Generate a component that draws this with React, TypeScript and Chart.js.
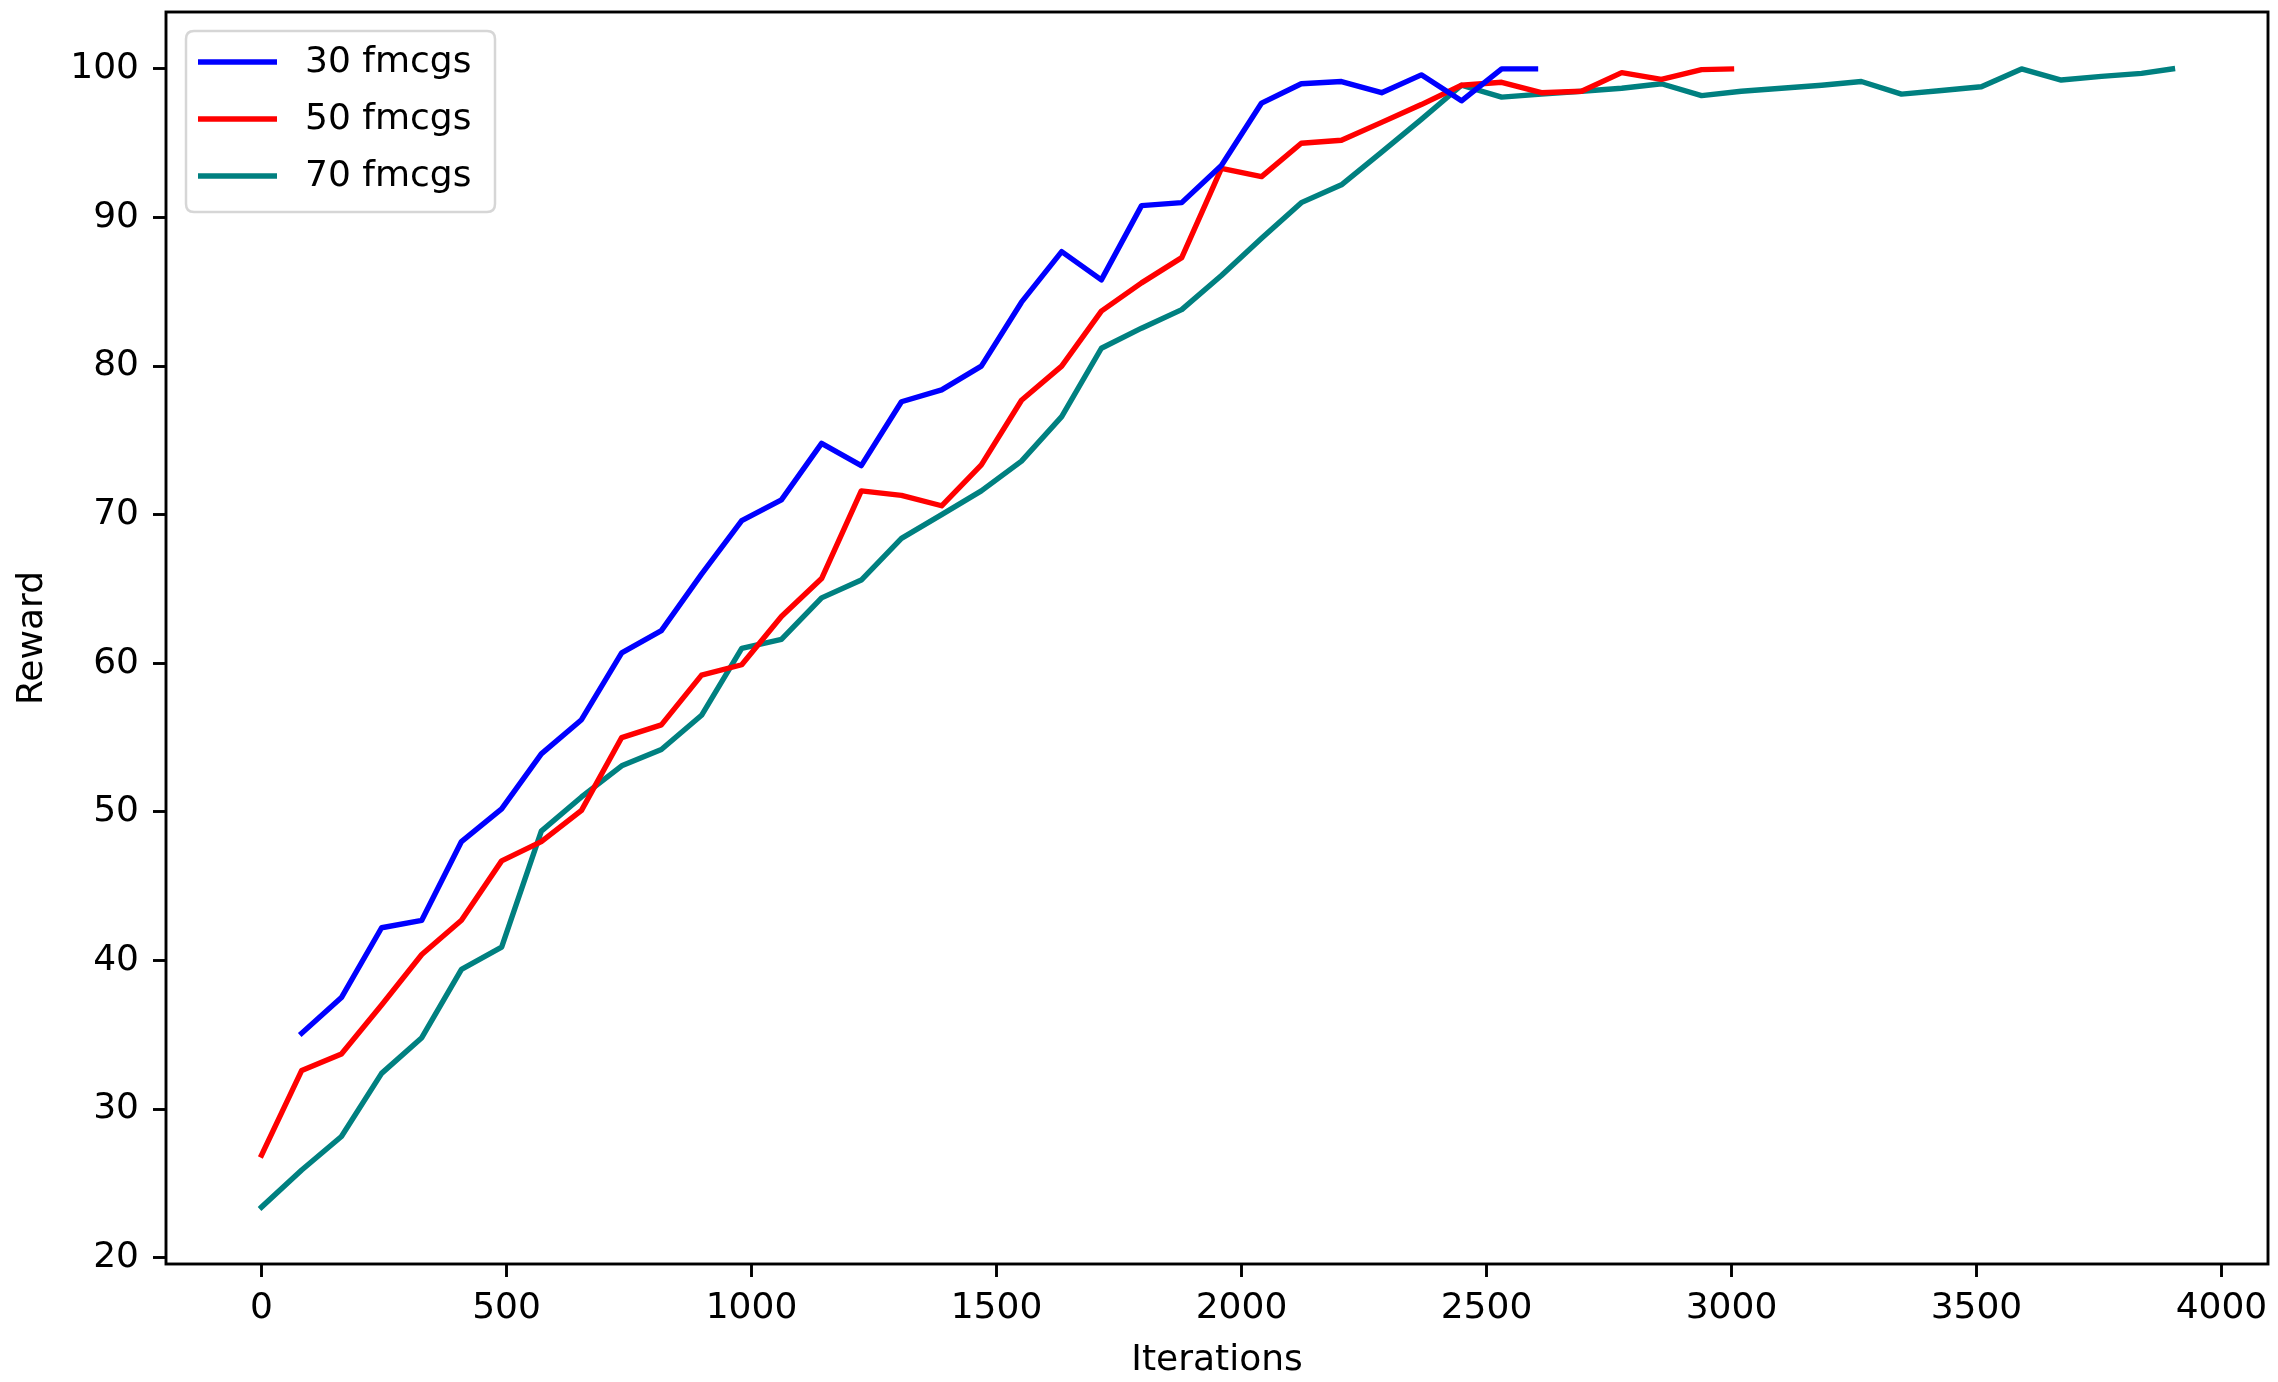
import React, { useEffect, useRef } from "react";
import { Chart, registerables } from "chart.js";

Chart.register(...registerables);

// ---- data ----
const seriesLabels = ["30 fmcgs", "50 fmcgs", "70 fmcgs"];
const seriesColors = ["#0000ff", "#ff0000", "#008080"];

const iter30 = [82, 163, 245, 327, 408, 490, 571, 653, 735, 816, 898, 980, 1061, 1143, 1224, 1306, 1388, 1469, 1551, 1633, 1714, 1796, 1878, 1959, 2041, 2122, 2204, 2286, 2367, 2449, 2531, 2600];
const reward30 = [35.1, 37.5, 42.2, 42.7, 48.0, 50.2, 53.9, 56.2, 60.7, 62.2, 66.0, 69.6, 71.0, 74.8, 73.3, 77.6, 78.4, 80.0, 84.3, 87.7, 85.8, 90.8, 91.0, 93.5, 97.7, 99.0, 99.15, 98.4, 99.6, 97.85, 100.0, 100.0];

const iter50 = [0, 82, 163, 245, 327, 408, 490, 571, 653, 735, 816, 898, 980, 1061, 1143, 1224, 1306, 1388, 1469, 1551, 1633, 1714, 1796, 1878, 1959, 2041, 2122, 2204, 2286, 2367, 2449, 2531, 2612, 2694, 2776, 2857, 2939, 3000];
const reward50 = [26.9, 32.6, 33.7, 37.0, 40.4, 42.7, 46.7, 48.0, 50.1, 55.0, 55.85, 59.2, 59.9, 63.15, 65.7, 71.6, 71.3, 70.6, 73.35, 77.7, 80.0, 83.7, 85.6, 87.3, 93.3, 92.75, 95.0, 95.2, 96.4, 97.6, 98.9, 99.1, 98.4, 98.5, 99.75, 99.3, 99.95, 100.0];

const iter70 = [0, 82, 163, 245, 327, 408, 490, 571, 653, 735, 816, 898, 980, 1061, 1143, 1224, 1306, 1388, 1469, 1551, 1633, 1714, 1796, 1878, 1959, 2041, 2122, 2204, 2286, 2367, 2449, 2531, 2612, 2694, 2776, 2857, 2939, 3020, 3102, 3184, 3265, 3347, 3429, 3510, 3592, 3673, 3755, 3837, 3900];
const reward70 = [23.4, 25.9, 28.15, 32.4, 34.8, 39.4, 40.9, 48.7, 51.0, 53.1, 54.2, 56.5, 61.0, 61.6, 64.4, 65.6, 68.4, 70.0, 71.6, 73.6, 76.6, 81.2, 82.55, 83.8, 86.1, 88.6, 91.0, 92.2, 94.4, 96.6, 98.9, 98.1, 98.3, 98.5, 98.7, 99.0, 98.2, 98.5, 98.7, 98.9, 99.15, 98.3, 98.55, 98.8, 100.0, 99.25, 99.5, 99.7, 100.0];

const xTicks = [0, 500, 1000, 1500, 2000, 2500, 3000, 3500, 4000];
const yTicks = [20, 30, 40, 50, 60, 70, 80, 90, 100];
const xRange = [-195, 4095];
const yRange = [19.57, 103.83];
const xTitle = "Iterations";
const yTitle = "Reward";

const FONT = "'DejaVu Sans', sans-serif";
const FS = 36;

const framePlugin = {
  id: "mplFrame",
  afterDatasetsDraw(chart: any) {
    const { ctx, chartArea: a } = chart;
    ctx.save();
    ctx.strokeStyle = "#000";
    ctx.lineWidth = 2.9;
    ctx.strokeRect(a.left, a.top, a.right - a.left, a.bottom - a.top);
    ctx.restore();
  },
};

const legendPlugin = {
  id: "mplLegend",
  afterDraw(chart: any) {
    const { ctx, chartArea: a } = chart;
    const bx = a.left + 20;
    const by = a.top + 19;
    const bw = 309;
    const bh = 181;
    const r = 8;
    ctx.save();
    ctx.beginPath();
    ctx.moveTo(bx + r, by);
    ctx.lineTo(bx + bw - r, by);
    ctx.quadraticCurveTo(bx + bw, by, bx + bw, by + r);
    ctx.lineTo(bx + bw, by + bh - r);
    ctx.quadraticCurveTo(bx + bw, by + bh, bx + bw - r, by + bh);
    ctx.lineTo(bx + r, by + bh);
    ctx.quadraticCurveTo(bx, by + bh, bx, by + bh - r);
    ctx.lineTo(bx, by + r);
    ctx.quadraticCurveTo(bx, by, bx + r, by);
    ctx.closePath();
    ctx.fillStyle = "rgba(255,255,255,0.8)";
    ctx.fill();
    ctx.strokeStyle = "rgba(204,204,204,0.8)";
    ctx.lineWidth = 2.5;
    ctx.stroke();
    chart.data.datasets.forEach((ds: any, i: number) => {
      const y = by + 31 + i * 57;
      ctx.beginPath();
      ctx.strokeStyle = ds.borderColor;
      ctx.lineWidth = 5.4;
      ctx.lineCap = "butt";
      ctx.moveTo(bx + 12, y);
      ctx.lineTo(bx + 91, y);
      ctx.stroke();
      ctx.fillStyle = "#000";
      ctx.font = `${FS}px ${FONT}`;
      ctx.textBaseline = "middle";
      ctx.textAlign = "left";
      ctx.fillText(ds.label, bx + 119, y + 1);
    });
    ctx.restore();
  },
};

export default function App() {
  const ref = useRef<HTMLCanvasElement | null>(null);

  useEffect(() => {
    if (!ref.current) return;
    const mk = (xs: number[], ys: number[]) => xs.map((x, i) => ({ x, y: ys[i] }));
    const datas = [mk(iter30, reward30), mk(iter50, reward50), mk(iter70, reward70)];
    const chart = new Chart(ref.current, {
      type: "line",
      data: {
        datasets: datas.map((d, i) => ({
          label: seriesLabels[i],
          data: d,
          borderColor: seriesColors[i],
          backgroundColor: seriesColors[i],
          borderWidth: 5.4,
          pointRadius: 0,
          pointHoverRadius: 0,
          tension: 0,
          fill: false,
          borderJoinStyle: "round",
          borderCapStyle: "square",
        })),
      },
      options: {
        responsive: false,
        animation: false,
        events: [],
        layout: { autoPadding: false, padding: { left: 0, right: 10, top: 12, bottom: 0 } },
        plugins: { legend: { display: false }, tooltip: { enabled: false } },
        scales: {
          x: {
            type: "linear",
            min: xRange[0],
            max: xRange[1],
            afterBuildTicks: (s: any) => {
              s.ticks = xTicks.map((v) => ({ value: v }));
            },
            afterFit: (s: any) => {
              s.height = 118;
              s.paddingLeft = 0;
              s.paddingRight = 0;
            },
            border: { display: false },
            grid: {
              drawOnChartArea: false,
              drawTicks: true,
              tickLength: 13,
              tickColor: "#000",
              tickWidth: 2.9,
            },
            ticks: {
              autoSkip: false,
              maxRotation: 0,
              padding: 10,
              color: "#000",
              font: { family: FONT, size: FS },
              callback: (v: any) => String(v),
            },
            title: {
              display: true,
              text: xTitle,
              color: "#000",
              font: { family: FONT, size: FS, lineHeight: 1.2 },
              padding: { top: 0, bottom: 0 },
            },
          },
          y: {
            type: "linear",
            min: yRange[0],
            max: yRange[1],
            afterBuildTicks: (s: any) => {
              s.ticks = yTicks.map((v) => ({ value: v }));
            },
            afterFit: (s: any) => {
              s.width = 166;
              s.paddingTop = 0;
              s.paddingBottom = 0;
            },
            border: { display: false },
            grid: {
              drawOnChartArea: false,
              drawTicks: true,
              tickLength: 13,
              tickColor: "#000",
              tickWidth: 2.9,
            },
            ticks: {
              autoSkip: false,
              padding: 14,
              color: "#000",
              font: { family: FONT, size: FS },
              callback: (v: any) => String(v),
            },
            title: {
              display: true,
              text: yTitle,
              color: "#000",
              font: { family: FONT, size: FS, lineHeight: 1.2 },
              padding: { top: 11, bottom: 0 },
            },
          },
        },
      },
      plugins: [framePlugin, legendPlugin],
    } as any);
    return () => chart.destroy();
  }, []);

  return (
    <div style={{ position: "fixed", left: 0, top: 0, width: 2278, height: 1382, background: "#fff" }}>
      <canvas ref={ref} width={2278} height={1382} style={{ display: "block" }} />
    </div>
  );
}
